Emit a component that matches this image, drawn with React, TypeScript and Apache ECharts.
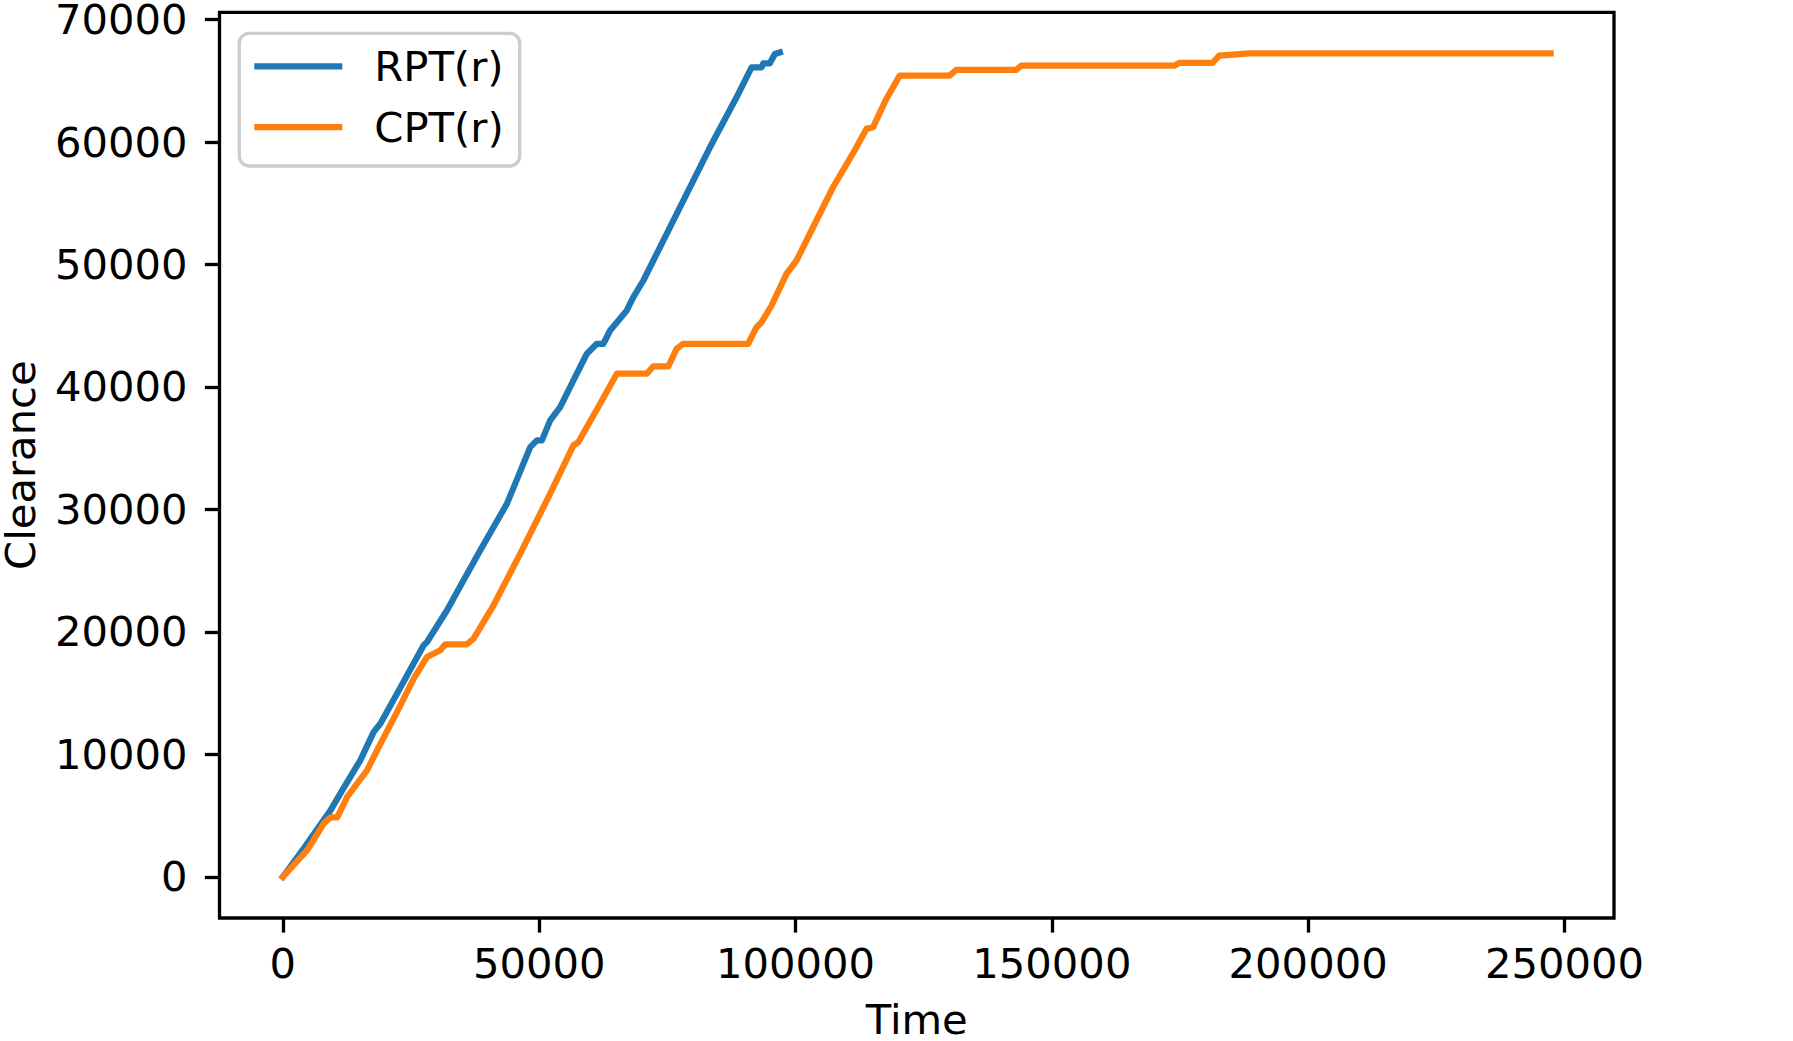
import React, { useEffect, useRef } from "react";
import * as echarts from "echarts";

const rptTime = [0, 4090, 9290, 11570, 15120, 17720, 19030, 22280, 27460, 28120, 32020, 35250, 38510, 43710, 48250, 49550, 50530, 52140, 54090, 56680, 59290, 61240, 62520, 63830, 67080, 68370, 70320, 74870, 78110, 83310, 88500, 91430, 93380, 93690, 94990, 95970, 96940];
const rptClearance = [0, 2318, 5427, 7060, 9524, 11833, 12520, 14967, 18909, 19178, 21765, 24213, 26662, 30473, 35093, 35640, 35640, 37272, 38357, 40535, 42715, 43531, 43531, 44616, 46249, 47334, 48697, 52507, 55225, 59575, 63656, 66105, 66105, 66432, 66432, 67198, 67328];

const cptTime = [0, 4750, 7990, 9290, 10600, 12540, 16440, 18390, 22280, 25520, 28120, 30720, 31690, 35920, 37200, 41100, 46300, 52140, 56680, 57650, 61880, 65140, 70980, 72260, 75180, 76820, 78110, 90770, 92400, 93380, 95330, 98240, 100200, 103430, 107320, 111880, 113830, 115110, 117720, 120320, 130060, 131360, 143050, 144020, 173880, 174850, 181340, 182640, 188490, 247300];
const cptClearance = [0, 2179, 4358, 4848, 4848, 6529, 8708, 10340, 13466, 16191, 17954, 18501, 18991, 18991, 19456, 22173, 26390, 31290, 35231, 35502, 38633, 41082, 41082, 41678, 41678, 43123, 43531, 43531, 44886, 45294, 46657, 49244, 50330, 53047, 56311, 59575, 61077, 61207, 63525, 65427, 65427, 65890, 65890, 66241, 66241, 66461, 66461, 67059, 67247, 67247];

const xTicks = [0, 50000, 100000, 150000, 200000, 250000];
const yTicks = [0, 10000, 20000, 30000, 40000, 50000, 60000, 70000];
const seriesNames = ["RPT(r)", "CPT(r)"];

const FONT = "DejaVu Sans";

export default function App() {
  const ref = useRef<HTMLDivElement>(null);
  useEffect(() => {
    document.body.style.margin = "0";
    const chart = echarts.init(ref.current!, null, { renderer: "svg" });
    const zip = (a: number[], b: number[]) => a.map((v, i) => [v, b[i]]);
    chart.setOption({
      animation: false,
      backgroundColor: "#ffffff",
      grid: {
        left: 219.5,
        top: 12.3,
        right: 179,
        bottom: 123,
        show: true,
        borderColor: "#000000",
        borderWidth: 3.3,
        backgroundColor: "transparent",
        containLabel: false,
        outerBoundsMode: "none",
      },
      legend: {
        orient: "vertical",
        left: 239.3,
        top: 33.3,
        data: seriesNames,
        icon: "rect",
        itemWidth: 88,
        itemHeight: 6.25,
        itemGap: 12.7,
        padding: [9, 16, 15, 15],
        borderColor: "#cccccc",
        borderWidth: 3.3,
        borderRadius: 10,
        backgroundColor: "rgba(255,255,255,0.8)",
        textStyle: {
          fontFamily: FONT,
          fontSize: 41.7,
          color: "#000000",
          lineHeight: 48,
          padding: [0, 0, 0, 27],
        },
      },
      xAxis: {
        type: "value",
        min: -12365,
        max: 259665,
        name: "Time",
        nameLocation: "middle",
        nameGap: 80.7,
        nameTextStyle: { fontFamily: FONT, fontSize: 41.7, color: "#000000" },
        axisLine: { show: false, onZero: false },
        splitLine: { show: false },
        axisTick: {
          show: true,
          length: 14.6,
          inside: false,
          lineStyle: { color: "#000000", width: 3.3 },
          customValues: xTicks,
        },
        axisLabel: {
          fontFamily: FONT,
          fontSize: 41.7,
          color: "#000000",
          margin: 24.5,
          customValues: xTicks,
          formatter: (v: number) => String(v),
        },
      },
      yAxis: {
        type: "value",
        min: -3365,
        max: 70600,
        name: "Clearance",
        nameLocation: "middle",
        nameGap: 178,
        nameTextStyle: { fontFamily: FONT, fontSize: 41.7, color: "#000000" },
        axisLine: { show: false, onZero: false },
        splitLine: { show: false },
        axisTick: {
          show: true,
          length: 14.6,
          inside: false,
          lineStyle: { color: "#000000", width: 3.3 },
          customValues: yTicks,
        },
        axisLabel: {
          fontFamily: FONT,
          fontSize: 41.7,
          color: "#000000",
          margin: 32,
          customValues: yTicks,
          formatter: (v: number) => String(v),
        },
      },
      series: [
        {
          name: seriesNames[0],
          type: "line",
          data: zip(rptTime, rptClearance),
          showSymbol: false,
          symbol: "none",
          color: "#1f77b4",
          lineStyle: { color: "#1f77b4", width: 6.25, cap: "square", join: "round" },
        },
        {
          name: seriesNames[1],
          type: "line",
          data: zip(cptTime, cptClearance),
          showSymbol: false,
          symbol: "none",
          color: "#ff7f0e",
          lineStyle: { color: "#ff7f0e", width: 6.25, cap: "square", join: "round" },
        },
      ],
    });
    return () => chart.dispose();
  }, []);
  return (
    <div
      ref={ref}
      style={{ position: "fixed", left: 0, top: 0, width: 1793, height: 1041 }}
    />
  );
}
